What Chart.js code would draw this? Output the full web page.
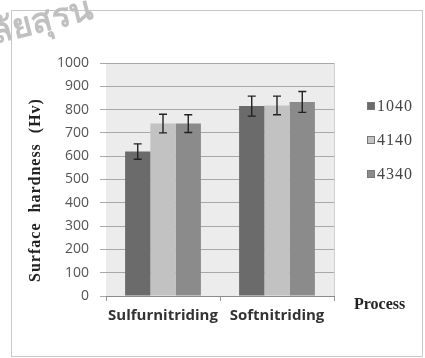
<!DOCTYPE html>
<html lang="en">
<head>
  <meta charset="UTF-8" />
  <title>Surface hardness</title>
  <style>
    html, body { margin: 0; padding: 0; background: #fff; }
    #wrap { width: 425px; height: 358px; position: relative; }
  </style>
</head>
<body>
  <div id="wrap"><canvas id="hardnessChart"></canvas></div>

  <script src="https://cdn.jsdelivr.net/npm/chart.js"></script>
  <script>
    // data
    const processes = ['Sulfurnitriding', 'Softnitriding'];
    const steels = ['1040', '4140', '4340'];
    const hardness1040 = [620, 815];
    const hardness4140 = [740, 818];
    const hardness4340 = [740, 833];
    const error1040 = [33, 43];
    const error4140 = [40, 40];
    const error4340 = [38, 45];
    const yTicks = [0, 100, 200, 300, 400, 500, 600, 700, 800, 900, 1000];

    const barColors = ['#6b6b6b', '#c2c2c2', '#8b8b8b'];
    const errors = [error1040, error4140, error4340];

    // plot background, frame, watermark
    const backdrop = {
      id: 'backdrop',
      beforeDraw(chart) {
        const c = chart.ctx, a = chart.chartArea;
        c.save();
        c.fillStyle = '#ececec';
        c.fillRect(a.left, a.top, a.right - a.left, a.bottom - a.top);
        c.strokeStyle = '#c8c8c8';
        c.lineWidth = 1;
        c.strokeRect(11.5, 10.5, 411, 346);
        c.strokeStyle = '#d0d0d0';
        c.beginPath();
        c.moveTo(a.right + 0.5, a.top);
        c.lineTo(a.right + 0.5, a.bottom);
        c.stroke();
        // faint watermark
        c.translate(42, 22);
        c.rotate(-0.25);
        c.fillStyle = '#c0c0c0';
        c.font = 'bold 34px "Noto Sans", "DejaVu Sans", sans-serif';
        c.textAlign = 'center';
        c.textBaseline = 'middle';
        c.fillText('ลัยสุรน', 0, 0);
        c.restore();
      }
    };

    // error bars, legend, axis titles
    const extras = {
      id: 'extras',
      afterDatasetsDraw(chart) {
        const c = chart.ctx, y = chart.scales.y;
        c.save();
        c.strokeStyle = '#222';
        c.lineWidth = 1.4;
        chart.data.datasets.forEach((ds, i) => {
          const meta = chart.getDatasetMeta(i);
          meta.data.forEach((bar, j) => {
            const v = ds.data[j], e = errors[i][j];
            const yHi = y.getPixelForValue(v + e);
            const yLo = y.getPixelForValue(v - e);
            c.beginPath();
            c.moveTo(bar.x, yHi); c.lineTo(bar.x, yLo);
            c.moveTo(bar.x - 4, yHi); c.lineTo(bar.x + 4, yHi);
            c.moveTo(bar.x - 4, yLo); c.lineTo(bar.x + 4, yLo);
            c.stroke();
          });
        });
        c.restore();
      },
      afterDraw(chart) {
        const c = chart.ctx;
        c.save();
        // legend
        c.font = '16px "Liberation Serif", serif';
        c.letterSpacing = '1px';
        c.textBaseline = 'middle';
        const legendY = [106, 140, 174];
        chart.data.datasets.forEach((ds, i) => {
          c.fillStyle = ds.backgroundColor;
          c.fillRect(367, legendY[i] - 4, 8, 8);
          c.strokeStyle = '#777';
          c.lineWidth = 1;
          c.strokeRect(367.5, legendY[i] - 3.5, 7, 7);
          c.fillStyle = '#444';
          c.fillText(ds.label, 377, legendY[i] + 1);
        });
        // x title
        c.letterSpacing = '0px';
        c.font = 'bold 16px "Liberation Serif", serif';
        c.fillStyle = '#222';
        c.textAlign = 'left';
        c.fillText('Process', 354, 305);
        // y title
        c.translate(36, 190);
        c.rotate(-Math.PI / 2);
        c.textAlign = 'center';
        c.letterSpacing = '1px';
        c.fillText('Surface  hardness  (Hv)', 0, 0);
        c.restore();
      }
    };

    const ctx = document.getElementById('hardnessChart').getContext('2d');
    const hardnessChart = new Chart(ctx, {
      type: 'bar',
      data: {
        labels: processes,
        datasets: [
          { label: steels[0], data: hardness1040, backgroundColor: barColors[0] },
          { label: steels[1], data: hardness4140, backgroundColor: barColors[1] },
          { label: steels[2], data: hardness4340, backgroundColor: barColors[2] }
        ]
      },
      options: {
        responsive: true,
        maintainAspectRatio: false,
        animation: false,
        datasets: { bar: { barPercentage: 1, categoryPercentage: 0.665 } },
        layout: { padding: { top: 63, right: 91, bottom: 0, left: 0 } },
        scales: {
          x: {
            afterFit: s => { s.height = 62; },
            grid: { offset: true, drawOnChartArea: false, drawTicks: true, tickLength: 5, color: '#999' },
            border: { color: '#8a8a8a' },
            ticks: {
              color: '#333',
              padding: 6,
              maxRotation: 0,
              minRotation: 0,
              autoSkip: false,
              font: { family: '"Open Sans", sans-serif', size: 15, weight: 'bold' }
            }
          },
          y: {
            min: 0,
            max: 1000,
            afterFit: s => { s.width = 106; },
            afterBuildTicks: s => { s.ticks = yTicks.map(v => ({ value: v })); },
            grid: { color: '#a8a8a8', tickLength: 6 },
            border: { display: false },
            ticks: {
              color: '#555',
              padding: 11,
              callback: v => String(v),
              font: { family: '"Open Sans", sans-serif', size: 14 }
            }
          }
        },
        plugins: {
          legend: { display: false },
          tooltip: { enabled: false }
        }
      },
      plugins: [backdrop, extras]
    });
  </script>
</body>
</html>
